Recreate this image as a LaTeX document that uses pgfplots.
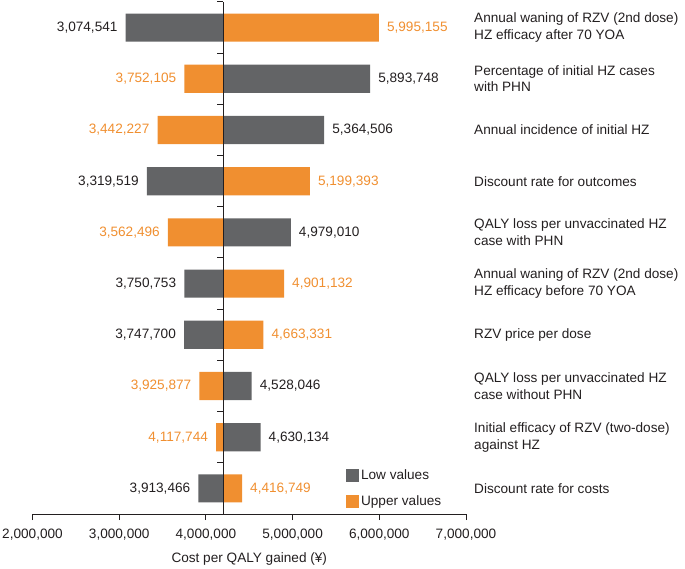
\documentclass[border=0pt]{standalone}
\usepackage{fontspec}
\setmainfont{Liberation Sans}
\usepackage{pgfplots}
\pgfplotsset{compat=1.18}
\definecolor{lowgray}{RGB}{99,100,102}
\definecolor{uporange}{RGB}{240,143,48}
\definecolor{txt}{RGB}{35,31,32}
\newcommand{\chartfont}{\fontsize{13.6}{16.6}\selectfont}
% bars start at the base-case ICER (4,200,000)
\pgfplotsset{
  tbar/.style={xbar, bar width=0.55, bar shift=0pt, draw=none,
    x filter/.expression={x-4200000},
    legend image code/.code={\fill[##1] (0pt,-6.5pt) rectangle (13pt,6.5pt);},
    nodes near coords, point meta=explicit symbolic},
  lft/.style={every node near coord/.append style={anchor=east, inner xsep=8pt, font=\chartfont, text=#1}},
  rgt/.style={every node near coord/.append style={anchor=west, inner xsep=8pt, font=\chartfont, text=#1}},
}
\begin{document}
\begin{tikzpicture}
\useasboundingbox (0,0) rectangle (685pt,568pt);
\begin{axis}[at={(32.5pt,54pt)}, anchor=south west, scale only axis,
  width=433.5pt, height=512pt, clip=false,
  xmin=-2200000, xmax=2800000, ymin=0.5, ymax=10.5,
  axis x line=bottom, axis y line=center,
  axis line style={-, line width=1pt, txt},
  xtick={-2200000,-1200000,-200000,800000,1800000,2800000},
  xticklabels={{2,000,000},{3,000,000},{4,000,000},{5,000,000},{6,000,000},{7,000,000}},
  scaled x ticks=false,
  ytick={0.5,1.5,...,10.5}, yticklabels={},
  tick align=outside, major tick length=6pt, tick style={txt, line width=1pt},
  tick label style={font=\chartfont, text=txt},
  xticklabel style={yshift=-5pt},
  xlabel={Cost per QALY gained (¥)},
  x label style={font=\chartfont, text=txt, at={(axis description cs:0.5,0)}, anchor=base, yshift=-48pt},
  axis on top,
  legend style={draw=none, fill=none, at={(axis description cs:0.716,0.094)}, anchor=north west,
    font=\chartfont, text=txt, row sep=10pt},
  legend cell align=left]
\addplot[tbar, lft=txt, fill=lowgray] coordinates {
  (3074541,10) [3,074,541] (3319519,7) [3,319,519] (3750753,5) [3,750,753]
  (3747700,4) [3,747,700] (3913466,1) [3,913,466]};
\addlegendentry{Low values}
\addplot[tbar, rgt=uporange, fill=uporange] coordinates {
  (5995155,10) [5,995,155] (5199393,7) [5,199,393] (4901132,5) [4,901,132]
  (4663331,4) [4,663,331] (4416749,1) [4,416,749]};
\addlegendentry{Upper values}
\addplot[tbar, rgt=txt, fill=lowgray, forget plot] coordinates {
  (5893748,9) [5,893,748] (5364506,8) [5,364,506] (4979010,6) [4,979,010]
  (4528046,3) [4,528,046] (4630134,2) [4,630,134]};
\addplot[tbar, lft=uporange, fill=uporange, forget plot] coordinates {
  (3752105,9) [3,752,105] (3442227,8) [3,442,227] (3562496,6) [3,562,496]
  (3925877,3) [3,925,877] (4117744,2) [4,117,744]};
\tikzset{cat/.style={anchor=west, align=left, font=\chartfont, text=txt, inner sep=0pt, xshift=8pt}}
\node[cat] at (rel axis cs:1,0.95) {Annual waning of RZV (2nd dose)\\HZ efficacy after 70 YOA};
\node[cat] at (rel axis cs:1,0.85) {Percentage of initial HZ cases\\with PHN};
\node[cat] at (rel axis cs:1,0.75) {Annual incidence of initial HZ};
\node[cat] at (rel axis cs:1,0.65) {Discount rate for outcomes};
\node[cat] at (rel axis cs:1,0.55) {QALY loss per unvaccinated HZ\\case with PHN};
\node[cat] at (rel axis cs:1,0.45) {Annual waning of RZV (2nd dose)\\HZ efficacy before 70 YOA};
\node[cat] at (rel axis cs:1,0.35) {RZV price per dose};
\node[cat] at (rel axis cs:1,0.25) {QALY loss per unvaccinated HZ\\case without PHN};
\node[cat] at (rel axis cs:1,0.15) {Initial efficacy of RZV (two-dose)\\against HZ};
\node[cat] at (rel axis cs:1,0.05) {Discount rate for costs};
\end{axis}
\end{tikzpicture}
\end{document}
